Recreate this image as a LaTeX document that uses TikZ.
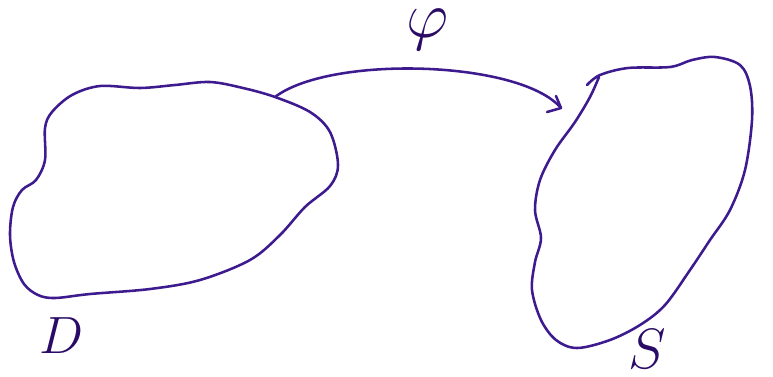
\documentclass[tikz,border=0pt]{standalone}
\usetikzlibrary{arrows.meta}
\definecolor{ink}{HTML}{3D1B8E}
\definecolor{inkdark}{HTML}{2A0C66}
\tikzset{
  pen/.style={draw=ink, line width=1.45pt, line cap=round, line join=round},
  lbl/.style={text=inkdark, inner sep=0pt, font=\fontsize{24.88}{26}\selectfont}
}
\begin{document}
\begin{tikzpicture}[x=0.02cm,y=-0.02cm]
\useasboundingbox (0,0) rectangle (773,376);
% domain D
\draw[pen] plot[smooth cycle, tension=0.55] coordinates {
 (275,97) (310,112) (330,132) (338,165) (330,186) (305,207) (280,235)
 (250,260) (200,280) (150,289) (90,294) (55,298) (38,295) (24,284)
 (14,262) (10,235) (13,207) (22,190) (36,180) (45,160) (45,128)
 (52,112) (72,95) (100,86) (140,88) (175,85) (210,82) (243,88)};
% arrow phi
\coordinate (a0) at (275,97);
\coordinate (a1) at (561,108);
\draw[pen] (a0) .. controls (330,55) and (520,60) .. (a1);
\coordinate (h1) at (556,96);
\coordinate (h2) at (547,112);
\draw[pen] (h1) -- (a1) -- (h2);
% set S
\draw[pen] plot[smooth, tension=0.55] coordinates {
 (587,85) (600,75) (628,68) (670,67) (692,60) (715,57) (740,65)
 (750,86) (752,120) (745,170) (730,210) (710,240) (690,270) (665,305)
 (640,325) (610,340) (577,348) (556,340) (541,320) (532,290) (535,262)
 (541,238) (535,210) (540,180) (555,150) (575,122) (590,97) (599,77)};
% labels
\node[lbl] (phi) at (428,30) {\scalebox{1.5}{$\varphi$}};
\node[lbl] (D) at (62,336) {\scalebox{1.2}{$D$}};
\node[lbl] (S) at (647,349) {\scalebox{1.3}{$S$}};
\end{tikzpicture}
\end{document}
